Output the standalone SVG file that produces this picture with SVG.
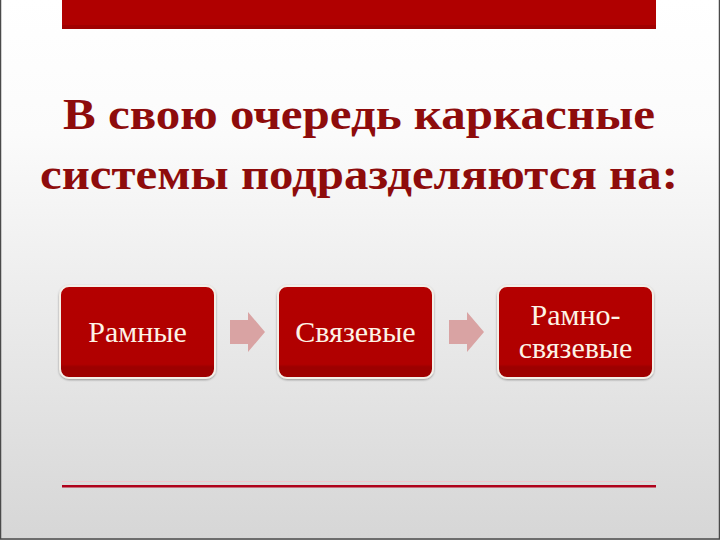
<svg xmlns="http://www.w3.org/2000/svg" width="720" height="540" viewBox="0 0 720 540">
<defs>
<linearGradient id="bg" x1="0" y1="0" x2="0" y2="1">
<stop offset="0" stop-color="#ffffff"/>
<stop offset="0.25" stop-color="#fbfbfb"/>
<stop offset="1" stop-color="#d6d6d6"/>
</linearGradient>
<linearGradient id="boxfill" x1="0" y1="0" x2="0" y2="1">
<stop offset="0" stop-color="#b40000"/>
<stop offset="0.85" stop-color="#b00000"/>
<stop offset="0.88" stop-color="#9c0000"/>
<stop offset="1" stop-color="#a00000"/>
</linearGradient>
<filter id="sh" x="-10%" y="-10%" width="120%" height="120%">
<feDropShadow dx="0" dy="1" stdDeviation="1.2" flood-color="#000" flood-opacity="0.35"/>
</filter>
</defs>
<style>
.box{fill:url(#boxfill);stroke:#f4efe8;stroke-width:2;filter:url(#sh)}
.lbl{font-family:"Liberation Serif","Times New Roman","DejaVu Serif",serif;font-size:30px;fill:#fdf3e6;text-anchor:middle}
.title{font-family:"Liberation Serif","Times New Roman","DejaVu Serif",serif;font-weight:bold;font-size:45px;fill:#8e0c0c;text-anchor:middle}
.arr{fill:#d9a3a3}
</style>
<rect x="0" y="0" width="720" height="540" fill="url(#bg)"/>
<rect x="0.5" y="-1" width="719" height="540" fill="none" stroke="#4a4a4a" stroke-width="1.5"/>
<rect x="62" y="0" width="594" height="29" fill="#b00000"/>
<rect x="62" y="25" width="594" height="4" fill="#a00000"/>
<g id="title">
<text class="title" x="359" y="129" textLength="592" lengthAdjust="spacingAndGlyphs">В свою очередь каркасные</text>
<text class="title" x="359" y="189" textLength="638" lengthAdjust="spacingAndGlyphs">системы подразделяются на:</text>
</g>
<g id="node-ramnye">
<rect class="box" x="60" y="286" width="155" height="92" rx="9"/>
<text class="lbl" x="137.5" y="342">Рамные</text>
</g>
<g id="node-svyazevye">
<rect class="box" x="278" y="286" width="155" height="92" rx="9"/>
<text class="lbl" x="355.5" y="342">Связевые</text>
</g>
<g id="node-ramno-svyazevye">
<rect class="box" x="498" y="286" width="155" height="92" rx="9"/>
<text class="lbl" x="575.5" y="325">Рамно-</text>
<text class="lbl" x="575.5" y="358">связевые</text>
</g>
<g id="connectors">
<path class="arr" d="M230,320 H248 V312 L265,332 L248,352 V344 H230 Z"/>
<path class="arr" d="M449,320 H467 V312 L484,332 L467,352 V344 H449 Z"/>
</g>
<rect x="62" y="485" width="594" height="2.5" fill="#b0001a"/>
<rect x="62" y="481" width="594" height="1" fill="#f2c6cc"/>
</svg>
